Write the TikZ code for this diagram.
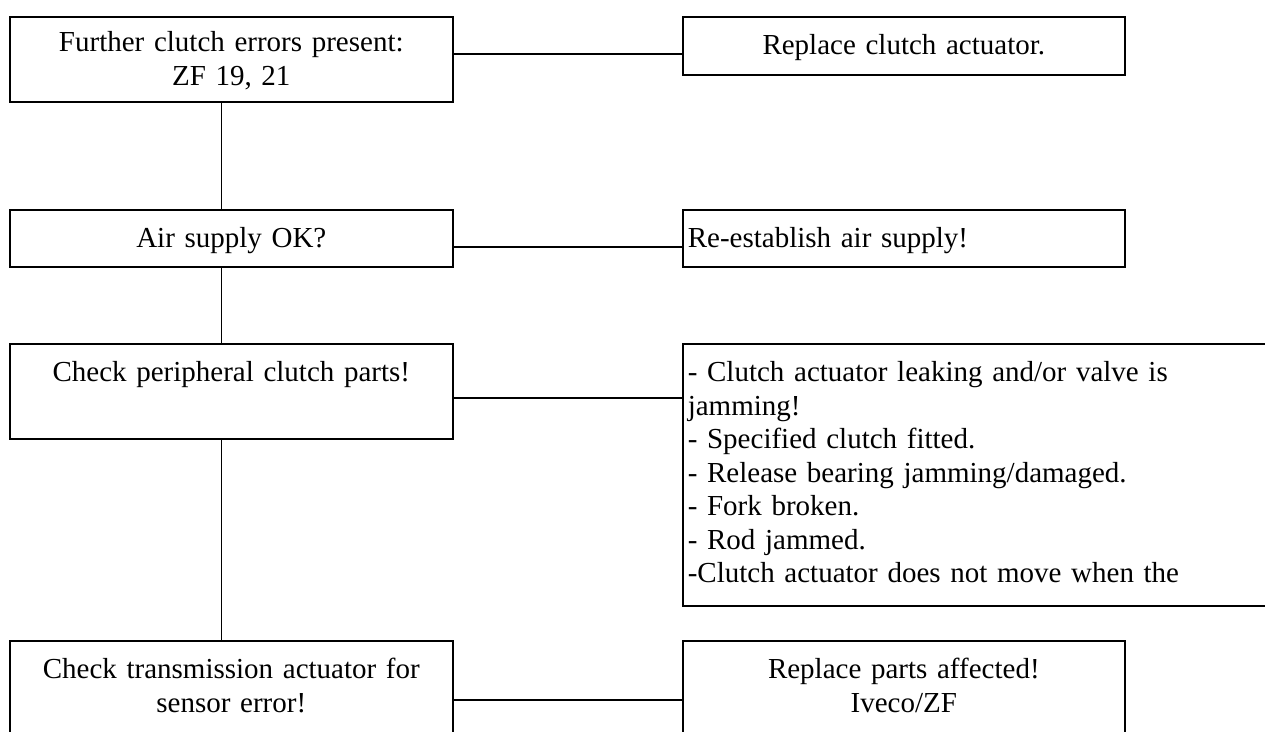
\documentclass[tikz,border=0pt]{standalone}
\usepackage{fontspec}
\setmainfont{Liberation Serif}
\usepackage{tikz}

\begin{document}
\begin{tikzpicture}[x=1pt,y=-1pt,
        box/.style={draw,line width=1.6pt,inner xsep=0pt,inner ysep=0pt,anchor=north west,
            align=center,text height=38pt,font=\fontsize{29}{33.5}\selectfont},
        leftbox/.style={box,inner xsep=5pt,align=left},
        link/.style={line width=1.3pt}]

    \useasboundingbox (0,0) rectangle (1265,731);

    % Left column
    \node[box,text width=443pt,text height=35pt,text depth=50pt] (fce) at (9,16) {Further clutch errors present:\\ZF 19, 21};
    \node[box,text width=443pt,text depth=19pt] (air) at (9,209) {Air supply OK?};
    \node[box,text width=443pt,text depth=57pt] (pcp) at (9,343) {Check peripheral clutch parts!};
    \node[box,text width=443pt,text depth=82pt] (cta) at (9,640) {Check transmission actuator for\\sensor error!};

    % Right column
    \node[box,text width=442pt,text depth=20pt] (rca) at (682,16) {Replace clutch actuator.};
    \node[leftbox,text width=432pt,text depth=19pt] (rea) at (682,209) {Re-establish air supply!};
    \node[leftbox,text width=620pt,text depth=224pt] (lst) at (682,343)
        {- Clutch actuator leaking and/or valve is\\jamming!\\- Specified clutch fitted.\\- Release bearing jamming/damaged.\\- Fork broken.\\- Rod jammed.\\-Clutch actuator does not move when the};
    \node[box,text width=442pt,text depth=82pt] (rpa) at (682,640) {Replace parts affected!\\Iveco/ZF};

    % Vertical links
    \draw[link] ([xshift=-9.5pt]fce.south) -- ([xshift=-9.5pt]air.north);
    \draw[link] ([xshift=-9.5pt]air.south) -- ([xshift=-9.5pt]pcp.north);
    \draw[link] ([xshift=-9.5pt]pcp.south) -- ([xshift=-9.5pt]cta.north);

    % Horizontal links
    \draw[link] ([yshift=-38pt]fce.north east) -- ([yshift=-38pt]rca.north west);
    \draw[link] ([yshift=-38pt]air.north east) -- ([yshift=-38pt]rea.north west);
    \draw[link] ([yshift=-55pt]pcp.north east) -- ([yshift=-55pt]lst.north west);
    \draw[link] ([yshift=-60pt]cta.north east) -- ([yshift=-60pt]rpa.north west);

\end{tikzpicture}
\end{document}
